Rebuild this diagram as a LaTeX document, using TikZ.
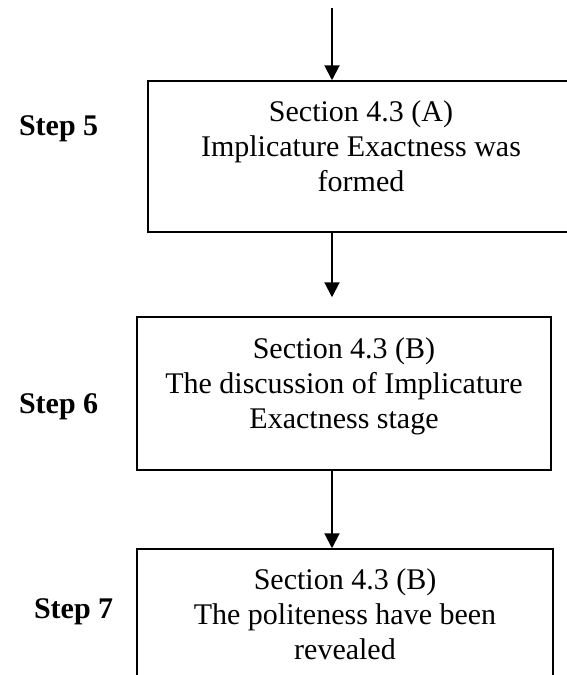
\documentclass[tikz,border=0pt]{standalone}
\usepackage{fontspec}
\setmainfont{Liberation Serif}
\usetikzlibrary{arrows.meta, positioning}

\begin{document}
\begin{tikzpicture}[
    x=0.5pt, y=-0.5pt,
    box/.style={draw, line width=0.75pt, inner sep=0pt},
    boxtext/.style={align=center, inner sep=0pt,
                    font=\fontsize{15}{17.5}\selectfont},
    steplbl/.style={anchor=base west, font=\fontsize{15}{18}\selectfont\bfseries},
    arrow/.style={-{Triangle[length=7.5pt, width=7.5pt]}, line width=1pt}
]
\useasboundingbox (0,0) rectangle (567,675);

\node[box, minimum width=213pt, minimum height=75.5pt] (sec5) at (361,156.5) {};
\node[box, minimum width=207pt, minimum height=76.5pt] (sec6) at (344,393.5) {};
\node[box, minimum width=208pt, minimum height=76.5pt] (sec7) at (345,625.5) {};

\node[boxtext, below=10pt of sec5.north] (sec5txt)
    {Section 4.3 (A)\\Implicature Exactness was\\formed};
\node[boxtext, below=10.5pt of sec6.north] (sec6txt)
    {Section 4.3 (B)\\The discussion of Implicature\\Exactness stage};
\node[boxtext, below=10pt of sec7.north] (sec7txt)
    {Section 4.3 (B)\\The politeness have been\\revealed};

% Step labels
\node[steplbl] (step5) at (12,135) {Step 5};
\node[steplbl] (step6) at (12,413) {Step 6};
\node[steplbl] (step7) at (27,618) {Step 7};

\coordinate (top) at (332,8);
\draw[arrow] (top) -- (sec5.north -| top);
\draw[arrow, shorten >=9.5pt] (sec5.south -| top) -- (sec6.north -| top);
\draw[arrow] (sec6.south -| top) -- (sec7.north -| top);

\end{tikzpicture}
\end{document}
